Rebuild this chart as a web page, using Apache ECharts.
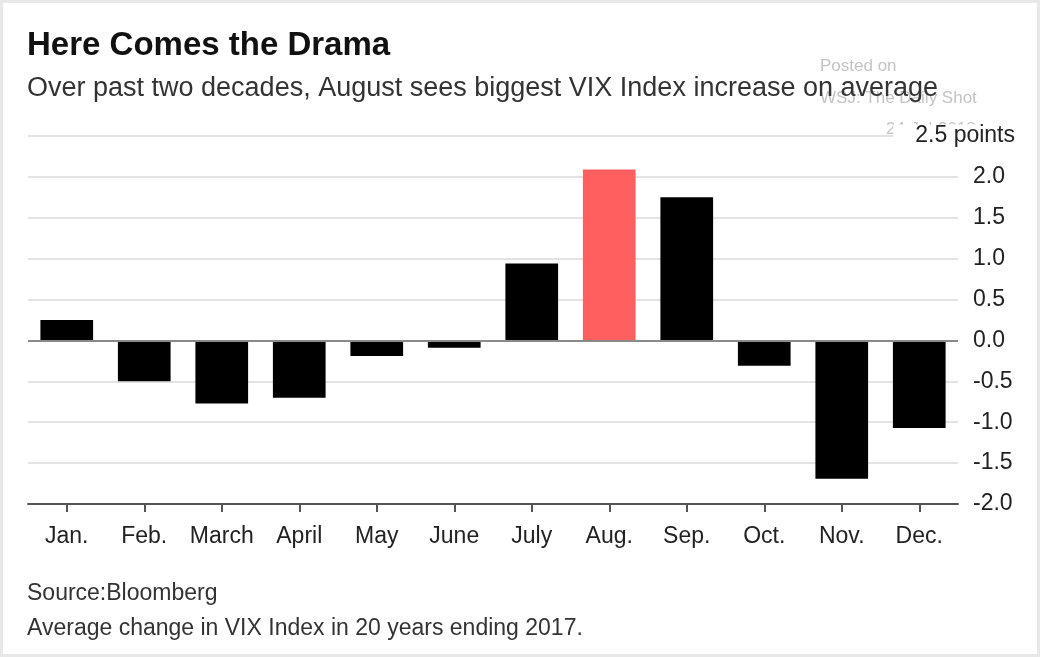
<!DOCTYPE html>
<html>
<head>
<meta charset="utf-8">
<script src="https://cdn.jsdelivr.net/npm/echarts@6/dist/echarts.min.js"></script>
<style>
  html, body { margin: 0; padding: 0; background: #fff; }
  #chart { width: 1040px; height: 657px; }
  #frame {
    position: absolute; left: 0; top: 0; width: 1040px; height: 657px;
    box-sizing: border-box; border: 3px solid #e8e8e8; pointer-events: none;
  }
</style>
</head>
<body>
<div id="chart"></div>
<div id="frame"></div>
<script>
// data
const months = ['Jan.', 'Feb.', 'March', 'April', 'May', 'June', 'July', 'Aug.', 'Sep.', 'Oct.', 'Nov.', 'Dec.'];
const vixChange = [0.25, -0.50, -0.77, -0.70, -0.19, -0.09, 0.94, 2.09, 1.75, -0.31, -1.69, -1.07];
const highlightMonth = 'Aug.';
const yTicks = [-2.0, -1.5, -1.0, -0.5, 0.0, 0.5, 1.0, 1.5, 2.0, 2.5];

const font = '"Liberation Sans", Arial, sans-serif';

const chart = echarts.init(document.getElementById('chart'), null, { renderer: 'canvas' });

function label(x, y, text, fill, f, extra) {
    return {
        type: 'text', x: x, y: y, z: 10,
        style: Object.assign({ text: text, fill: fill, font: f, verticalAlign: 'middle' }, extra || {})
    };
}

const option = {
    backgroundColor: '#fff',
    animation: false,
    textStyle: { fontFamily: font },
    grid: {
        left: 28,
        right: 82,
        top: 136,
        bottom: 153
    },
    xAxis: {
        type: 'category',
        data: months,
        axisLine: { show: true, onZero: false, lineStyle: { color: '#555', width: 2 } },
        axisTick: {
            show: true,
            inside: false,
            alignWithLabel: true,
            interval: 0,
            length: 8,
            lineStyle: { color: '#555', width: 2 }
        },
        axisLabel: { color: '#222', fontSize: 23, margin: 21, interval: 0 },
        z: 5
    },
    yAxis: {
        type: 'value',
        position: 'right',
        min: yTicks[0],
        max: yTicks[yTicks.length - 1],
        interval: 0.5,
        axisLine: { show: false },
        axisTick: { show: false },
        axisLabel: {
            color: '#222',
            fontSize: 23,
            margin: 15,
            formatter: function (v) {
                // the top tick is written as "2.5 points" separately
                if (v === yTicks[yTicks.length - 1]) return '';
                return v.toFixed(1);
            }
        },
        splitLine: { lineStyle: { color: '#e3e3e3', width: 2 } }
    },
    series: [{
        type: 'bar',
        barWidth: '68%',
        data: vixChange.map(function (v, i) {
            return {
                value: v,
                itemStyle: { color: months[i] === highlightMonth ? '#ff5f5f' : '#000' }
            };
        }),
        markLine: {
            silent: true,
            symbol: 'none',
            label: { show: false },
            lineStyle: { color: '#8a8a8a', type: 'solid', width: 2 },
            data: [{ yAxis: 0 }]
        }
    }],
    graphic: [
        // watermark
        Object.assign(label(820, 66, 'Posted on', '#c4c4c4', '17px ' + font), { z: 0 }),
        Object.assign(label(820, 98, 'WSJ: The Daily Shot', '#c4c4c4', '17px ' + font), { z: 0 }),
        Object.assign(label(886, 129, '24-Jul-2018', '#c4c4c4', '17px ' + font), { z: 0 }),
        // titles
        label(27, 46, 'Here Comes the Drama', '#111', 'bold 33px ' + font),
        label(27, 89, 'Over past two decades, August sees biggest VIX Index increase on average', '#333', '27px ' + font),
        // top tick label
        label(1015, 136, '2.5 points', '#222', '23px ' + font,
            { align: 'right', backgroundColor: '#fff', padding: [0, 0, 0, 22] }),
        // footer
        label(27, 594, 'Source:Bloomberg', '#333', '23px ' + font),
        label(27, 629, 'Average change in VIX Index in 20 years ending 2017.', '#333', '23px ' + font)
    ]
};

chart.setOption(option);
window.addEventListener('resize', chart.resize);
</script>
</body>
</html>
